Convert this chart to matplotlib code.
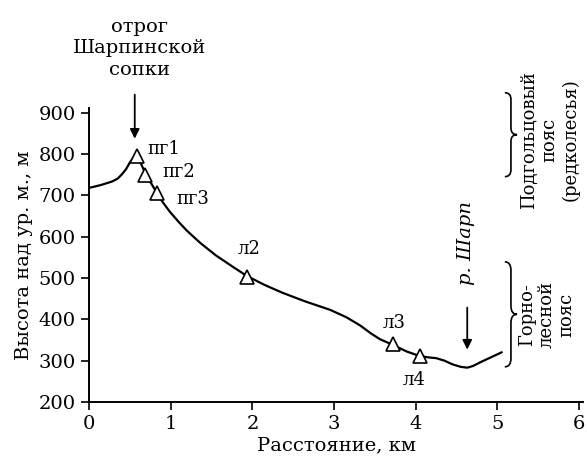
import matplotlib.pyplot as plt
from matplotlib.path import Path
from matplotlib.patches import PathPatch

plt.rcParams['font.family'] = ['DejaVu Serif']

# Профиль рельефа
dist = [0.0, 0.05, 0.15, 0.28, 0.35, 0.40, 0.45, 0.50, 0.54, 0.58,
        0.64, 0.70, 0.77, 0.83, 0.90, 0.99, 1.10, 1.20, 1.36, 1.55,
        1.76, 1.93, 2.15, 2.37, 2.65, 2.95, 3.15, 3.32, 3.45, 3.56,
        3.72, 3.89, 4.05, 4.15, 4.25, 4.35, 4.45, 4.55, 4.63, 4.70,
        4.80, 4.92, 5.05]
height = [718, 720, 725, 733, 740, 750, 762, 779, 790, 799,
          775, 748, 726, 706, 684, 660, 635, 614, 585, 555,
          527, 505, 483, 464, 443, 423, 405, 385, 366, 352,
          338, 322, 311, 308, 306, 300, 291, 285, 283, 287,
          297, 308, 320]

# Точки описаний
pt_names = ['пг1', 'пг2', 'пг3', 'л2', 'л3', 'л4']
pt_dist = [0.59, 0.69, 0.83, 1.93, 3.72, 4.05]
pt_height = [795, 748, 706, 503, 340, 311]
pt_label_xy = [(0.72, 813), (0.90, 757), (1.07, 692), (1.96, 570), (3.73, 390), (3.98, 253)]

fig = plt.figure(figsize=(5.87, 4.58), dpi=100)
ax = fig.add_axes([0.1516, 0.1223, 0.842, 0.641])

ax.plot(dist, height, color='black', lw=1.6)
ax.plot(pt_dist, pt_height, linestyle='none', marker='^', markersize=10,
        markerfacecolor='white', markeredgecolor='black', markeredgewidth=1.2)
for name, (lx, ly) in zip(pt_names, pt_label_xy):
    ha = 'left' if name.startswith('пг') else 'center'
    ax.text(lx, ly, name, fontsize=13, ha=ha, va='center')

ax.set_xlim(0, 6.05)
ax.set_ylim(200, 910)
ax.set_xticks(range(0, 7))
ax.set_yticks(range(200, 901, 100))
ax.tick_params(labelsize=14, length=6, width=1.2, direction='out')
for s in ['top', 'right']:
    ax.spines[s].set_visible(False)
for s in ['left', 'bottom']:
    ax.spines[s].set_linewidth(1.4)

ax.set_xlabel('Расстояние, км', fontsize=14, labelpad=2)
ax.set_ylabel('Высота над ур. м., м', fontsize=14, labelpad=4)

# Стрелки и подписи
ax.annotate('', xy=(0.56, 830), xytext=(0.56, 950), annotation_clip=False,
            arrowprops=dict(arrowstyle='-|>', color='black', lw=1.3, mutation_scale=14))
fig.text(0.237, 0.895, 'отрог\nШарпинской\nсопки', fontsize=14, ha='center',
         va='center', linespacing=1.25)

ax.annotate('', xy=(4.63, 320), xytext=(4.63, 435), annotation_clip=False,
            arrowprops=dict(arrowstyle='-|>', color='black', lw=1.3, mutation_scale=14))
ax.text(4.62, 585, 'р. Шарп', fontsize=14, style='italic', rotation=90,
        ha='center', va='center')


def brace(x0, w, y0, y1):
    xs, xt = x0 + w * 0.5, x0 + w
    ym = (y0 + y1) / 2
    r = (y1 - y0) * 0.08
    verts = [(x0, y0), (xs, y0), (xs, y0 + r), (xs, ym - r), (xs, ym), (xt, ym),
             (xs, ym), (xs, ym + r), (xs, y1 - r), (xs, y1), (x0, y1)]
    codes = [Path.MOVETO, Path.CURVE3, Path.CURVE3, Path.LINETO, Path.CURVE3,
             Path.CURVE3, Path.CURVE3, Path.CURVE3, Path.LINETO, Path.CURVE3, Path.CURVE3]
    ax.add_patch(PathPatch(Path(verts, codes), fill=False, lw=1.2, clip_on=False))


brace(5.09, 0.15, 745, 948)
brace(5.09, 0.15, 285, 539)

ax.text(5.64, 834, 'Подгольцовый\nпояс\n(редколесья)', fontsize=13, rotation=90,
        ha='center', va='center', multialignment='center', linespacing=1.2)
ax.text(5.60, 411, 'Горно-\nлесной\nпояс', fontsize=13, rotation=90,
        ha='center', va='center', multialignment='center', linespacing=1.1)

fig.savefig('out.png', dpi=100)
